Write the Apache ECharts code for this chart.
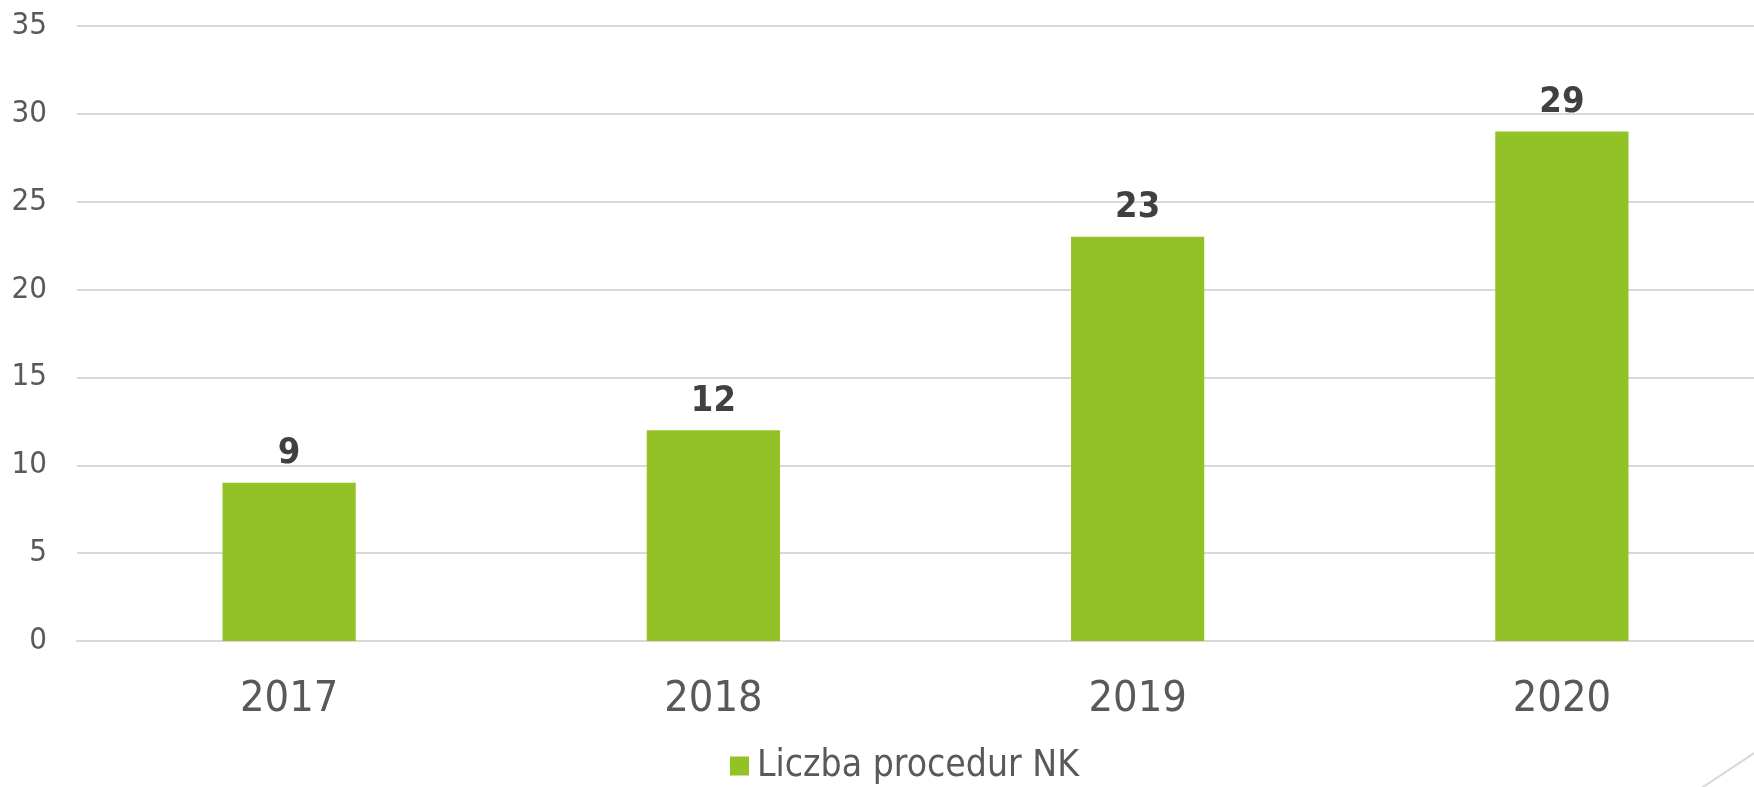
<!DOCTYPE html>
<html>
<head>
<meta charset="utf-8">
<script src="https://cdn.jsdelivr.net/npm/echarts@6/dist/echarts.min.js"></script>
<style>
html, body { margin: 0; padding: 0; background: #fff; }
#chart { width: 1754px; height: 787px; }
</style>
</head>
<body>
<div id="chart"></div>
<script>
const years = ['2017', '2018', '2019', '2020'];
const procedures = [9, 12, 23, 29];
const seriesName = 'Liczba procedur NK';

const font = '"DejaVu Sans Condensed", "DejaVu Sans", sans-serif';
const grey = '#595959';
const gridColor = '#d9d9d9';

const chart = echarts.init(document.getElementById('chart'));
chart.setOption({
	animation: false,
	textStyle: { fontFamily: font },
	// the plot runs past the right edge, as in the original slide
	grid: { left: 77, width: 1697, top: 26, bottom: 146, containLabel: false, outerBoundsMode: 'none' },
	legend: {
		data: [seriesName],
		left: 725,
		top: 741,
		icon: 'rect',
		itemWidth: 19,
		itemHeight: 19,
		textStyle: { fontSize: 37, color: grey, fontFamily: font, lineHeight: 40, padding: [0, 0, 0, 3] }
	},
	xAxis: {
		type: 'category',
		data: years,
		axisTick: { show: false },
		axisLine: { lineStyle: { color: gridColor, width: 2 } },
		axisLabel: { fontSize: 43, color: grey, margin: 37, fontFamily: font }
	},
	yAxis: {
		type: 'value',
		min: 0,
		max: 35,
		interval: 5,
		axisLine: { show: false },
		axisTick: { show: false },
		splitLine: { lineStyle: { color: gridColor, width: 2 } },
		axisLabel: { fontSize: 31, color: grey, margin: 30, fontFamily: font, padding: [6, 0, 0, 0] }
	},
	series: [{
		name: seriesName,
		type: 'bar',
		data: procedures,
		barWidth: '31.4%',
		itemStyle: { color: '#92c226' },
		label: {
			show: true,
			position: 'top',
			distance: 11,
			fontSize: 36,
			fontWeight: 'bold',
			color: '#404040',
			fontFamily: font
		}
	}],
	graphic: [{
		type: 'line',
		shape: { x1: 1700, y1: 789, x2: 1756, y2: 752 },
		style: { stroke: gridColor, lineWidth: 2 }
	}]
});
</script>
</body>
</html>
